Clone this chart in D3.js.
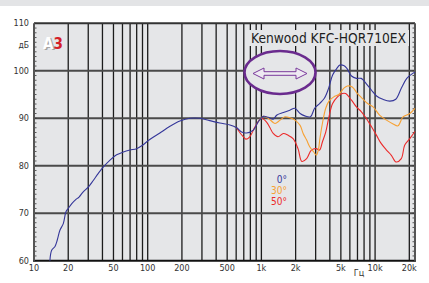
<!DOCTYPE html>
<html>
<head>
<meta charset="utf-8">
<style>
  body { margin: 0; background: #fff; }
  svg { display: block; font-family: "Liberation Sans Narrow", "DejaVu Sans Condensed", "DejaVu Sans", sans-serif; font-stretch: condensed; }
  path.curve { fill: none; stroke-width: 1.1; stroke-linejoin: round; }
</style>
<title>Kenwood KFC-HQR710EX</title>
</head>
<body>
<script src="https://cdn.jsdelivr.net/npm/d3@7"></script>
<script>

// frequency response, [Hz, dB]
var curve0 = [[13.8,60],[14.3,62.2],[15.3,63.0],[16,64.3],[16.9,66.4],[18.1,67.8],[19.1,70.3],[20,71],[21.5,72],
  [23.4,72.9],[24.9,73.4],[27.1,74.5],[30,75.5],[33.2,76.9],[36.8,78.4],[40.6,79.7],[46.6,81.2],[53.3,82.3],
  [61.1,82.9],[69.8,83.3],[80,83.6],[90,84.3],[100,85.2],[128,86.9],[157,88.3],[192,89.4],[235,90.0],[287,90.0],
  [351,89.5],[431,89.0],[529,88.6],[606,88.0],[670,87.1],[740,86.9],[850,87.5],[940,89.3],[1040,90.4],[1150,90.2],
  [1270,89.8],[1370,90.7],[1560,91.2],[1780,91.7],[1970,92.1],[2190,91.0],[2410,90.5],[2700,90.3],[2940,92.1],
  [3250,93.1],[3580,94.2],[3900,96.3],[4230,99.1],[4610,100.5],[4900,101.2],[5300,101.1],[5650,100.5],[6200,98.9],
  [6850,98.4],[7550,98.4],[8350,97.3],[9300,95.9],[10300,94.7],[11700,94.0],[13500,93.6],[15200,94.0],[17000,96.3],
  [19000,98.4],[21600,99.5],[22400,99.7]];

var curve30 = [[940,89.3],[1040,90.4],[1150,90.0],[1270,89.1],[1320,88.9],[1460,89.6],[1610,90.3],[1780,90.1],
  [1970,89.6],[2190,88.5],[2330,86.8],[2500,85.4],[2660,84.0],[2890,82.9],[3040,82.2],[3170,83.3],[3270,85.7],
  [3440,88.9],[3680,92.1],[3930,93.6],[4330,94.5],[4800,95.0],[5300,96.3],[5700,96.8],[6300,96.6],[7000,95.2],
  [7700,94.2],[8600,93.1],[9600,92.4],[11000,90.6],[12600,89.6],[14400,88.8],[15900,88.4],[17600,90.3],
  [20200,91.0],[22400,92.1]];

var curve50 = [[606,88.0],[650,86.9],[695,86.1],[730,85.6],[790,86.1],[880,88.2],[1000,90.0],[1110,89.2],
  [1190,88.0],[1270,86.8],[1400,86.1],[1560,86.8],[1720,86.4],[1900,85.7],[2100,83.6],[2270,80.9],[2500,81.5],
  [2750,83.3],[3040,83.6],[3250,83.3],[3440,85.0],[3680,87.1],[3930,90.3],[4230,93.1],[4670,94.5],[5150,95.2],
  [5500,95.2],[6200,93.8],[6850,92.4],[7550,91.4],[8350,90.0],[9300,88.2],[10300,86.4],[11300,84.7],[12600,83.3],
  [13900,82.2],[15300,80.8],[17000,81.5],[18200,84.3],[20200,85.7],[22400,87.2]];

var series = [
  {name: "50°", color: "#ec2a2a", data: curve50},
  {name: "30°", color: "#f7a133", data: curve30},
  {name: "0°",  color: "#35379a", data: curve0},
];

var gridFreqs = [20,30,40,50,60,70,80,90,100,200,300,400,500,600,700,800,900,
  1000,2000,3000,4000,5000,6000,7000,8000,9000,10000,20000];
var freqLabels = [[10,"10"],[20,"20"],[50,"50"],[100,"100"],[200,"200"],[500,"500"],
  [1000,"1k"],[2000,"2k"],[5000,"5k"],[10000,"10k"],[20000,"20k"]];
var dbTicks = [70,80,90,100];
var dbLabels = [60,70,80,90,100,110];

var W = 429, H = 283;
var bg = "#e5e6e8";

var x = d3.scaleLog().domain([10, 22440]).range([34, 415]);
var y = d3.scaleLinear().domain([60, 110]).range([260.7, 23.3]);

var svg = d3.select("body").append("svg")
  .attr("width", W).attr("height", H);

// top band
svg.append("rect").attr("x", 0).attr("y", 0).attr("width", W).attr("height", 6).attr("fill", "#e3e4e6");

// plot background
svg.append("rect")
  .attr("x", x(10)).attr("y", y(110))
  .attr("width", x.range()[1] - x(10)).attr("height", y(60) - y(110))
  .attr("fill", bg);

// vertical grid
svg.append("g").selectAll("line").data(gridFreqs).join("line")
  .attr("x1", d => x(d)).attr("x2", d => x(d))
  .attr("y1", y(110)).attr("y2", y(60))
  .attr("stroke", "#1c1c1c").attr("stroke-width", 1.3);

// horizontal grid
svg.append("g").selectAll("line").data(dbTicks).join("line")
  .attr("x1", x(10)).attr("x2", x.range()[1])
  .attr("y1", d => y(d)).attr("y2", d => y(d))
  .attr("stroke", "#4a4a4a").attr("stroke-width", 2);

// minor dB ticks on both sides
var minor = d3.range(60, 111);
svg.append("g").selectAll("line").data(minor).join("line")
  .attr("x1", x(10)).attr("x2", x(10) + 2.5)
  .attr("y1", d => y(d)).attr("y2", d => y(d))
  .attr("stroke", "#333").attr("stroke-width", 0.8);
svg.append("g").selectAll("line").data(minor).join("line")
  .attr("x1", x.range()[1] - 2.5).attr("x2", x.range()[1])
  .attr("y1", d => y(d)).attr("y2", d => y(d))
  .attr("stroke", "#333").attr("stroke-width", 0.8);

// frame
svg.append("line").attr("x1", x(10)).attr("x2", x.range()[1]).attr("y1", y(110)).attr("y2", y(110))
  .attr("stroke", "#333").attr("stroke-width", 2);
svg.append("line").attr("x1", x(10) - 1).attr("x2", x.range()[1] + 1).attr("y1", y(60)).attr("y2", y(60))
  .attr("stroke", "#111").attr("stroke-width", 2);
svg.append("line").attr("x1", x(10)).attr("x2", x(10)).attr("y1", y(110)).attr("y2", y(60))
  .attr("stroke", "#555").attr("stroke-width", 2);
svg.append("line").attr("x1", x.range()[1]).attr("x2", x.range()[1]).attr("y1", y(110)).attr("y2", y(60))
  .attr("stroke", "#555").attr("stroke-width", 2);

// title with background patch
svg.append("rect").attr("x", 248).attr("y", 30).attr("width", 161).attr("height", 16).attr("fill", bg);
svg.append("text").text("Kenwood KFC-HQR710EX")
  .attr("x", 251).attr("y", 43)
  .attr("textLength", 155).attr("lengthAdjust", "spacingAndGlyphs")
  .attr("font-size", 14).attr("fill", "#1e1e1e");

// ellipse with double arrow
svg.append("ellipse").attr("cx", 280).attr("cy", 72.5).attr("rx", 35.5).attr("ry", 21.5)
  .attr("fill", bg).attr("stroke", "#6a2b8e").attr("stroke-width", 2.6);
var ax0 = 253, ax1 = 307, ay = 73.5, sh = 1.8, hh = 5.5, hl = 11;
svg.append("path")
  .attr("d", `M${ax0},${ay} L${ax0+hl},${ay-hh} L${ax0+hl},${ay-sh} L${ax1-hl},${ay-sh} L${ax1-hl},${ay-hh} L${ax1},${ay}
    L${ax1-hl},${ay+hh} L${ax1-hl},${ay+sh} L${ax0+hl},${ay+sh} L${ax0+hl},${ay+hh} Z`)
  .attr("fill", "#eeeaf2").attr("stroke", "#7a3a9c").attr("stroke-width", 1);

// curves
var line = d3.line().x(d => x(d[0])).y(d => y(d[1])).curve(d3.curveCatmullRom.alpha(0.5));
svg.append("g").selectAll("path").data(series).join("path")
  .attr("class", "curve")
  .attr("stroke", d => d.color)
  .attr("d", d => line(d.data));

// A3 logo
svg.append("text").text("A").attr("x", 44.5).attr("y", 50)
  .attr("font-family", "DejaVu Sans").attr("font-weight", "bold").attr("font-size", 15).attr("fill", "#8a8a8a")
  .attr("opacity", 0.7);
svg.append("text").text("A").attr("x", 43).attr("y", 49)
  .attr("font-family", "DejaVu Sans").attr("font-weight", "bold").attr("font-size", 15).attr("fill", "#fff");
svg.append("text").text("3").attr("x", 53.5).attr("y", 49)
  .attr("font-family", "DejaVu Sans").attr("font-weight", "bold").attr("font-size", 15).attr("fill", "#d42027");

// y labels
svg.append("g").selectAll("text").data(dbLabels).join("text")
  .text(d => d)
  .attr("x", 29).attr("y", d => y(d)).attr("dy", "0.35em")
  .attr("text-anchor", "end").attr("font-size", 9).attr("fill", "#333");
svg.append("text").text("дБ").attr("x", 29).attr("y", 45.5).attr("dy", "0.35em")
  .attr("text-anchor", "end").attr("font-size", 8.5).attr("fill", "#333");

// x labels
svg.append("g").selectAll("text").data(freqLabels).join("text")
  .text(d => d[1])
  .attr("x", d => x(d[0])).attr("y", 268).attr("dy", "0.35em")
  .attr("text-anchor", "middle").attr("font-size", 9).attr("fill", "#333");
svg.append("text").text("Гц").attr("x", 359).attr("y", 272.5).attr("dy", "0.35em")
  .attr("text-anchor", "middle").attr("font-size", 9).attr("fill", "#333");

// legend
svg.append("g").selectAll("text").data(series.slice().reverse()).join("text")
  .text(d => d.name)
  .attr("x", 287).attr("y", (d, i) => 179 + i * 11.3).attr("dy", "0.35em")
  .attr("text-anchor", "end").attr("font-size", 10).attr("fill", d => d.color);

</script>
</body>
</html>
